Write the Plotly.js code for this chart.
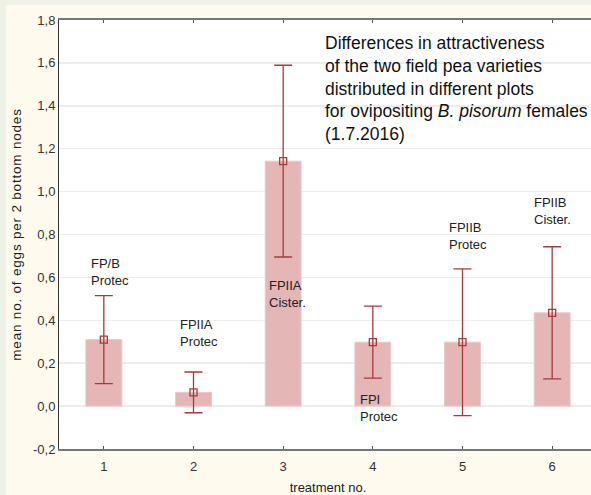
<!DOCTYPE html>
<html>
<head>
<meta charset="utf-8">
<script src="https://cdn.plot.ly/plotly-3.0.1.min.js"></script>
<style>
  html, body { margin: 0; padding: 0; width: 591px; height: 495px; overflow: hidden; background: #eef2e6; }
  #chart { position: absolute; left: 6px; top: 5px; width: 600px; height: 490px; }
  #chart .ytitle { letter-spacing: 0.8px; }
</style>
</head>
<body>
<div id="chart"></div>
<script>
// ---- data ----
const treatments = [1, 2, 3, 4, 5, 6];
const means      = [0.31, 0.064, 1.142, 0.298, 0.298, 0.435];
const errors     = [0.205, 0.095, 0.447, 0.168, 0.342, 0.308];
const varietyLabels = ["FP/B<br>Protec", "FPIIA<br>Protec", "FPIIA<br>Cister.", "FPI<br>Protec", "FPIIB<br>Protec", "FPIIB<br>Cister."];
const yTickVals  = [-0.2, 0, 0.2, 0.4, 0.6, 0.8, 1.0, 1.2, 1.4, 1.6, 1.8];
const yTickText  = ["-0,2", "0,0", "0,2", "0,4", "0,6", "0,8", "1,0", "1,2", "1,4", "1,6", "1,8"];
const chartTitle = "Differences in attractiveness<br>of the two field pea varieties<br>distributed in different plots<br>for ovipositing <i>B. pisorum</i> females<br>(1.7.2016)";

// label anchor positions (data coordinates, top-left of each label)
const labelAnchors = [[0.835, 0.71], [1.828, 0.425], [2.821, 0.607], [3.837, 0.075], [4.83, 0.877], [5.779, 0.994]];

const FONT = "Liberation Sans, Arial, sans-serif";
const RED = "#a83a3a";

const bars = {
  type: "bar",
  x: treatments,
  y: means,
  width: 0.4,
  marker: { color: "#e5b6b6", line: { color: "#ecc8c8", width: 1 } },
  hoverinfo: "skip",
  showlegend: false
};

const points = {
  type: "scatter",
  mode: "markers",
  x: treatments,
  y: means,
  marker: { symbol: "square-open", size: 7, color: RED, line: { width: 1.3, color: RED } },
  error_y: { type: "data", array: errors, visible: true, color: RED, thickness: 1.3, width: 9 },
  showlegend: false
};

const annotations = varietyLabels.map((t, i) => ({
  text: t, x: labelAnchors[i][0], y: labelAnchors[i][1], xref: "x", yref: "y",
  xanchor: "left", yanchor: "top", align: "left", showarrow: false,
  font: { family: FONT, size: 13, color: "#222" }
}));
annotations.push({
  text: chartTitle, x: 3.446, y: 1.75, xref: "x", yref: "y",
  xanchor: "left", yanchor: "top", align: "left", showarrow: false,
  font: { family: FONT, size: 17.5, color: "#111" }
});

const layout = {
  width: 600, height: 490,
  margin: { l: 53, r: 9, t: 15, b: 46 },
  paper_bgcolor: "#fefaee",
  plot_bgcolor: "#ffffff",
  font: { family: FONT, size: 12, color: "#333" },
  bargap: 0,
  xaxis: {
    range: [0.5, 6.5],
    tickvals: treatments,
    ticks: "inside", ticklen: 3, tickcolor: "#555",
    ticklabelstandoff: 4,
    showline: true, linecolor: "#777", linewidth: 2, mirror: "ticks",
    showgrid: false, zeroline: false,
    tickfont: { family: FONT, size: 13, color: "#333" },
    title: { text: "treatment no.", font: { family: FONT, size: 13, color: "#222" }, standoff: 14 }
  },
  yaxis: {
    range: [-0.2, 1.8],
    tickvals: yTickVals, ticktext: yTickText,
    ticks: "", showline: true, linecolor: "#333", linewidth: 1,
    showgrid: true, gridcolor: "#ececec", gridwidth: 1.5, zeroline: false,
    tickfont: { family: FONT, size: 13, color: "#333" },
    title: { text: "mean no. of eggs per 2 bottom nodes", font: { family: FONT, size: 13.5, color: "#222" }, standoff: 8 }
  },
  annotations: annotations
};

Plotly.newPlot("chart", [bars, points], layout, { displayModeBar: false, staticPlot: true });
</script>
</body>
</html>
